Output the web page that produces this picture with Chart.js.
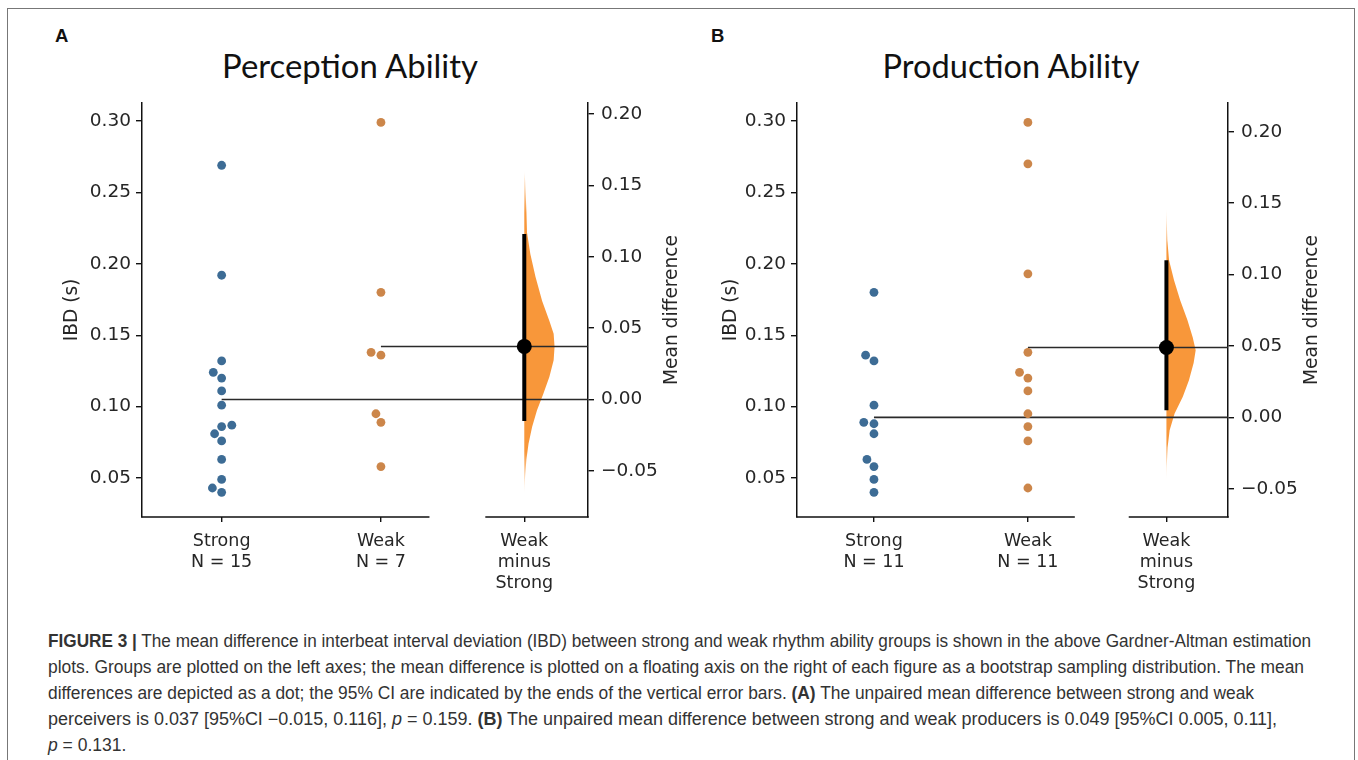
<!DOCTYPE html>
<html><head><meta charset="utf-8">
<script src="https://cdn.jsdelivr.net/npm/chart.js@4.4.1/dist/chart.umd.min.js"></script>
<style>
html,body{margin:0;padding:0;background:#fff;width:1358px;height:760px;overflow:hidden;position:relative;}
#frame{position:absolute;left:7px;top:8px;width:1348px;height:800px;border:1.5px solid #777;box-sizing:border-box;}
.cv{position:absolute;}
.letter{position:absolute;font-family:"Liberation Sans",Arial,sans-serif;font-weight:bold;font-size:18.5px;line-height:18px;color:#111;}
.ptitle{position:absolute;font-family:Lato,"Open Sans",sans-serif;font-size:30px;line-height:1;color:#111;transform:translateX(-50%);white-space:nowrap;}
#caption{position:absolute;left:48px;top:628px;font-family:"Liberation Sans Narrow","Arial Narrow","Liberation Sans",sans-serif;font-size:17.5px;line-height:26px;color:#333;}
#caption div{white-space:nowrap;transform-origin:0 50%;width:max-content;}
</style></head><body>
<div id="frame"></div>
<div class="letter" style="left:55px;top:27px;">A</div>
<div class="letter" style="left:711px;top:27px;">B</div>
<div class="ptitle" data-w="256" data-base="79" style="left:350px;top:52px;">Perception Ability</div>
<div class="ptitle" data-w="257" data-base="79" style="left:1011px;top:52px;">Production Ability</div>
<canvas id="cA" class="cv" width="670" height="510" style="left:20px;top:90px;width:670px;height:510px;"></canvas>
<canvas id="cB" class="cv" width="660" height="510" style="left:690px;top:90px;width:660px;height:510px;"></canvas>
<div id="caption">
<div data-w="1263"><b>FIGURE 3 |</b> The mean difference in interbeat interval deviation (IBD) between strong and weak rhythm ability groups is shown in the above Gardner-Altman estimation</div>
<div data-w="1256">plots. Groups are plotted on the left axes; the mean difference is plotted on a floating axis on the right of each figure as a bootstrap sampling distribution. The mean</div>
<div data-w="1206">differences are depicted as a dot; the 95% CI are indicated by the ends of the vertical error bars. <b>(A)</b> The unpaired mean difference between strong and weak</div>
<div data-w="1229">perceivers is 0.037 [95%CI &minus;0.015, 0.116], <i>p</i> = 0.159. <b>(B)</b> The unpaired mean difference between strong and weak producers is 0.049 [95%CI 0.005, 0.11],</div>
<div><i>p</i> = 0.131.</div>
</div>
<script>
// ---------------- data ----------------
const GROUPS = ['Strong', 'Weak'];
const CONTRAST_LABEL = ['Weak', 'minus', 'Strong'];
const IBD_TICKS = [0.05, 0.10, 0.15, 0.20, 0.25, 0.30];
const DIFF_TICKS = [-0.05, 0.00, 0.05, 0.10, 0.15, 0.20];

const PERC_STRONG = [0.269, 0.192, 0.132, 0.124, 0.120, 0.111, 0.101, 0.087, 0.086, 0.081, 0.076, 0.063, 0.049, 0.043, 0.040];
const PERC_WEAK = [0.299, 0.180, 0.138, 0.136, 0.095, 0.089, 0.058];
const PERC_CI = [-0.015, 0.116];
const PERC_KDE_Y = [0.160, 0.153, 0.132, 0.117, 0.102, 0.086, 0.069, 0.055, 0.046, 0.037, 0.0275, 0.016, 0.004, -0.0075, -0.019, -0.031, -0.042, -0.056, -0.066];
const PERC_KDE_D = [0, 0.03, 0.07, 0.09, 0.20, 0.37, 0.59, 0.83, 0.97, 1.00, 0.97, 0.83, 0.63, 0.42, 0.26, 0.14, 0.07, 0.02, 0];

const PROD_STRONG = [0.180, 0.136, 0.132, 0.101, 0.089, 0.088, 0.081, 0.063, 0.058, 0.049, 0.040];
const PROD_WEAK = [0.299, 0.270, 0.193, 0.138, 0.124, 0.120, 0.111, 0.095, 0.086, 0.076, 0.043];
const PROD_CI = [0.005, 0.11];
const PROD_KDE_Y = [0.147, 0.124, 0.110, 0.096, 0.082, 0.068, 0.056, 0.047, 0.038, 0.026, 0.0144, 0.0028, -0.009, -0.021, -0.035, -0.044];
const PROD_KDE_D = [0, 0.03, 0.09, 0.26, 0.47, 0.72, 0.90, 1.00, 0.93, 0.77, 0.56, 0.28, 0.11, 0.04, 0.01, 0];

// ---------------- layout / style ----------------
const X_MIN = -0.5, X_MAX = 2.3;
const POS = { strong: 0, weak: 1, diff: 1.9 };
const RAW_AXIS_END = 1.3, CONTRAST_AXIS_START = 1.66;
const Y_MIN = 0.0227, Y_MAX = 0.3126;
const VIOLIN_W = 0.19;
const BLUE = '#3d6c95', ORANGE = '#cc864a', VIOLIN = '248,151,58';
const TEXT = '#262626';
const FONT = '"DejaVu Sans", sans-serif';

const mean = a => a.reduce((s, v) => s + v, 0) / a.length;

function swarm(values, centerPx, yScale, d) {
  const idx = values.map((v, i) => i).sort((a, b) => values[a] - values[b]);
  const placed = [];
  const out = new Array(values.length);
  idx.forEach(i => {
    const y = yScale.getPixelForValue(values[i]);
    const cands = [{ x: centerPx, y }];
    placed.forEach(p => {
      const dy = y - p.y;
      if (Math.abs(dy) < d) {
        const dx = Math.sqrt(Math.max(d * d - dy * dy, 0)) * 1.05;
        cands.push({ x: p.x - dx, y }, { x: p.x + dx, y });
      }
    });
    const order = cands.map((c, k) => k).sort((a, b) =>
      (Math.abs(cands[a].x - centerPx) - Math.abs(cands[b].x - centerPx)) || (a - b));
    let chosen = cands[order[0]];
    for (const k of order) {
      const c = cands[k];
      if (placed.every(p => Math.hypot(p.x - c.x, p.y - c.y) >= d - 1e-6)) { chosen = c; break; }
    }
    placed.push(chosen);
    out[i] = chosen.x;
  });
  return out;
}

const axisDecor = {
  id: 'axisDecor',
  afterDraw(chart) {
    const c = chart.ctx, x = chart.scales.x, y2 = chart.scales.y2, a = chart.chartArea;
    c.save();
    c.strokeStyle = '#111'; c.lineWidth = 1.5; c.lineCap = 'square';
    c.beginPath();
    c.moveTo(a.left, a.bottom); c.lineTo(x.getPixelForValue(RAW_AXIS_END), a.bottom);
    c.moveTo(x.getPixelForValue(CONTRAST_AXIS_START), a.bottom); c.lineTo(a.right, a.bottom);
    c.stroke();
    c.font = '18.6px ' + FONT; c.fillStyle = TEXT; c.textAlign = 'center'; c.textBaseline = 'middle';
    c.translate(y2.right - 16, (y2.top + y2.bottom) / 2);
    c.rotate(-Math.PI / 2);
    c.fillText('Mean difference', 0, 0);
    c.restore();
  }
};

function makeChart(id, cfg) {
  const mS = mean(cfg.strong), mW = mean(cfg.weak), diff = mW - mS;
  const kTop = Math.max(...cfg.kdeY), kBot = Math.min(...cfg.kdeY);
  const violin = cfg.kdeY.map((v, i) => ({ x: POS.diff + VIOLIN_W * cfg.kdeD[i], y: v }))
    .concat(cfg.kdeY.slice().reverse().map(v => ({ x: POS.diff, y: v })));
  const yTickStyle = { color: TEXT, font: { family: FONT, size: 18.5 } };
  const grid = (len) => ({ display: true, drawOnChartArea: false, drawTicks: true, tickLength: len, color: '#111', lineWidth: 1.4 });
  const chart = new Chart(document.getElementById(id), {
    type: 'scatter',
    data: {
      datasets: [
        { label: 'strong', data: cfg.strong.map(v => ({ x: POS.strong, y: v })), yAxisID: 'y',
          backgroundColor: BLUE, borderWidth: 0, pointRadius: 4.4, order: 1 },
        { label: 'weak', data: cfg.weak.map(v => ({ x: POS.weak, y: v })), yAxisID: 'y',
          backgroundColor: ORANGE, borderWidth: 0, pointRadius: 4.4, order: 1 },
        { label: 'diff', data: [{ x: POS.diff, y: diff }], yAxisID: 'y2',
          backgroundColor: '#000', borderWidth: 0, pointRadius: 7.5, order: 2 },
        { label: 'ci', data: [{ x: POS.diff, y: cfg.ci[0] }, { x: POS.diff, y: cfg.ci[1] }], yAxisID: 'y2',
          showLine: true, borderColor: '#000', borderWidth: 4, pointRadius: 0, borderCapStyle: 'butt', order: 3 },
        { label: 'meanS', data: [{ x: POS.strong, y: mS }, { x: X_MAX, y: mS }], yAxisID: 'y',
          showLine: true, borderColor: '#2a2a2a', borderWidth: 1.6, pointRadius: 0, order: 5 },
        { label: 'meanW', data: [{ x: POS.weak, y: mW }, { x: X_MAX, y: mW }], yAxisID: 'y',
          showLine: true, borderColor: '#2a2a2a', borderWidth: 1.6, pointRadius: 0, order: 5 },
        { label: 'violin', data: violin, yAxisID: 'y2', showLine: true, fill: 'shape', tension: 0,
          borderWidth: 0, borderColor: 'rgba(0,0,0,0)', pointRadius: 0, order: 10,
          backgroundColor: (ctx) => {
            const ch = ctx.chart, s = ch.scales.y2;
            if (!s) return 'rgb(' + VIOLIN + ')';
            const t = s.getPixelForValue(kTop), b = s.getPixelForValue(kBot);
            if (!isFinite(t) || !isFinite(b) || t === b) return 'rgb(' + VIOLIN + ')';
            const g = ch.ctx.createLinearGradient(0, t, 0, b);
            g.addColorStop(0, 'rgba(' + VIOLIN + ',0.05)');
            g.addColorStop(0.13, 'rgba(' + VIOLIN + ',1)');
            g.addColorStop(0.87, 'rgba(' + VIOLIN + ',1)');
            g.addColorStop(1, 'rgba(' + VIOLIN + ',0.05)');
            return g;
          } }
      ]
    },
    options: {
      responsive: false, animation: false, events: [],
      layout: { padding: { left: cfg.padL, right: cfg.padR, top: 13, bottom: 3 } },
      plugins: { legend: { display: false }, tooltip: { enabled: false }, title: { display: false } },
      scales: {
        x: {
          type: 'linear', min: X_MIN, max: X_MAX,
          afterBuildTicks: s => { s.ticks = [POS.strong, POS.weak, POS.diff].map(v => ({ value: v })); },
          afterFit: s => { s.height = 80; s.paddingLeft = 0; s.paddingRight = 0; },
          ticks: { color: TEXT, autoSkip: false, maxRotation: 0, padding: 9,
            font: { family: FONT, size: 17.5, lineHeight: 1.2 },
            callback: v => v === POS.strong ? [GROUPS[0], 'N = ' + cfg.strong.length]
              : v === POS.weak ? [GROUPS[1], 'N = ' + cfg.weak.length] : CONTRAST_LABEL },
          grid: grid(5), border: { display: false }
        },
        y: {
          type: 'linear', position: 'left', min: Y_MIN, max: Y_MAX,
          afterBuildTicks: s => { s.ticks = IBD_TICKS.map(v => ({ value: v })); },
          afterFit: s => { s.width = cfg.yW; s.paddingTop = 0; s.paddingBottom = 0; },
          ticks: Object.assign({}, yTickStyle, { padding: 5, callback: v => v.toFixed(2) }),
          grid: grid(6), border: { display: true, color: '#111', width: 1.5 },
          title: { display: true, text: 'IBD (s)', color: TEXT, font: { family: FONT, size: 18.6 }, padding: { top: 9, bottom: 0 } }
        },
        y2: {
          type: 'linear', position: 'right', min: Y_MIN - mS, max: Y_MAX - mS,
          afterBuildTicks: s => { s.ticks = DIFF_TICKS.map(v => ({ value: v })); },
          afterFit: s => { s.width = 100; s.paddingTop = 0; s.paddingBottom = 0; },
          ticks: Object.assign({}, yTickStyle, { padding: 7,
            callback: v => (v < 0 ? '\u2212' : '') + Math.abs(v).toFixed(2) }),
          grid: grid(6), border: { display: true, color: '#111', width: 1.5 }
        }
      }
    },
    plugins: [axisDecor]
  });
  // beeswarm placement computed from scales
  const xs = chart.scales.x, ys = chart.scales.y;
  [[0, cfg.strong, POS.strong], [1, cfg.weak, POS.weak]].forEach(([di, vals, pos]) => {
    const px = swarm(vals, xs.getPixelForValue(pos), ys, 9.8);
    chart.data.datasets[di].data = vals.map((v, i) => ({ x: xs.getValueForPixel(px[i]), y: v }));
  });
  chart.update('none');
  return chart;
}

makeChart('cA', { strong: PERC_STRONG, weak: PERC_WEAK, ci: PERC_CI, kdeY: PERC_KDE_Y, kdeD: PERC_KDE_D, padL: 32, padR: 2, yW: 90 });
makeChart('cB', { strong: PROD_STRONG, weak: PROD_WEAK, ci: PROD_CI, kdeY: PROD_KDE_Y, kdeD: PROD_KDE_D, padL: 21, padR: 22, yW: 86 });

// fit caption lines to the reference line lengths
document.querySelectorAll('#caption div[data-w]').forEach(d => {
  const w = d.getBoundingClientRect().width;
  const target = +d.dataset.w;
  if (w > 0) d.style.transform = 'scaleX(' + (target / w).toFixed(4) + ')';
});
// size panel titles to the reference width, baseline at the reference position
document.querySelectorAll('.ptitle').forEach(el => {
  el.style.fontSize = '100px';
  const w = el.getBoundingClientRect().width;
  const fs = 100 * (+el.dataset.w) / w;
  el.style.fontSize = fs.toFixed(2) + 'px';
  el.style.top = (+el.dataset.base - 0.887 * fs).toFixed(1) + 'px';
});
</script>
</body></html>
